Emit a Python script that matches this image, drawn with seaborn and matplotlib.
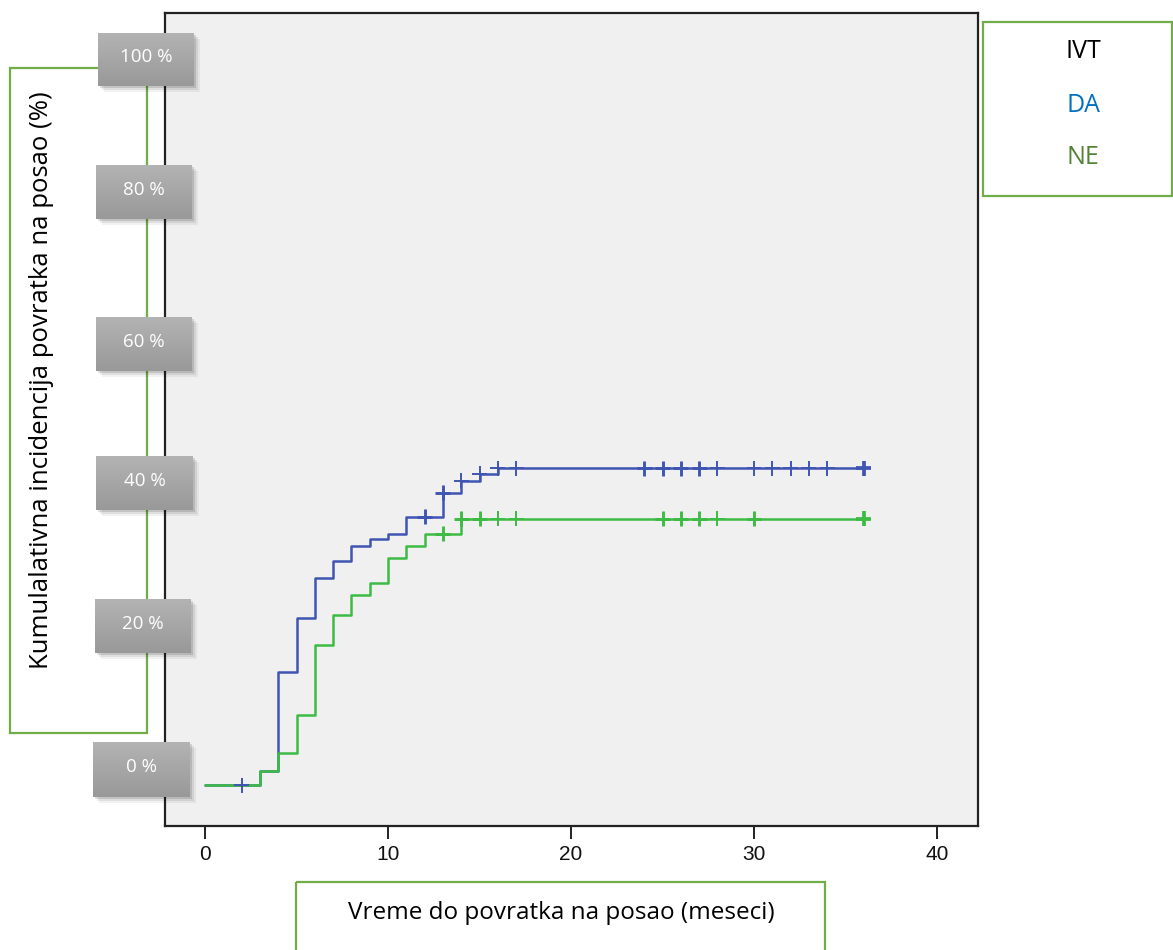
import numpy as np
import pandas as pd
import seaborn as sns
import matplotlib.pyplot as plt
from matplotlib.patches import Rectangle
from matplotlib.colors import LinearSegmentedColormap

# ---------------- data ----------------
groups = ["DA", "NE"]
da_time = [0, 3, 4, 5, 6, 7, 8, 9, 10, 11, 13, 14, 15, 16, 36]
da_cum = [0, 0.019, 0.154, 0.229, 0.283, 0.306, 0.327, 0.336, 0.344, 0.367,
          0.400, 0.416, 0.426, 0.433, 0.433]
ne_time = [0, 3, 4, 5, 6, 7, 8, 9, 10, 11, 12, 14, 36]
ne_cum = [0, 0.019, 0.044, 0.096, 0.191, 0.233, 0.260, 0.277, 0.311, 0.327,
          0.344, 0.364, 0.364]
da_censor = [2, 12, 13, 14, 15, 16, 17, 24, 25, 26, 27, 28, 30, 31, 32, 33, 34, 36]
da_censor_n = [1, 2, 2, 1, 1, 1, 1, 2, 2, 2, 2, 1, 1, 1, 1, 1, 1, 3]
ne_censor = [13, 14, 15, 16, 17, 25, 26, 27, 28, 30, 36]
ne_censor_n = [2, 2, 2, 1, 1, 2, 2, 2, 1, 2, 3]
x_ticks = [0, 10, 20, 30, 40]
y_tick_labels = ["0 %", "20 %", "40 %", "60 %", "80 %", "100 %"]
legend_title = "IVT"
x_label = "Vreme do povratka na posao (meseci)"
y_label = "Kumulalativna incidencija povratka na posao (%)"

line_colors = {"DA": "#3F55B2", "NE": "#3DBB44"}
legend_colors = {"DA": "#0070C0", "NE": "#538135"}

curves = pd.concat([
    pd.DataFrame({"time": da_time, "cum": da_cum, "group": "DA"}),
    pd.DataFrame({"time": ne_time, "cum": ne_cum, "group": "NE"}),
], ignore_index=True)


def censor_frame(times, counts, ctime, ccum, g):
    ctime = np.asarray(ctime, float)
    ccum = np.asarray(ccum, float)
    idx = np.searchsorted(ctime, np.asarray(times, float), side="right") - 1
    return pd.DataFrame({"time": times, "cum": ccum[idx], "n": counts, "group": g})


cens = pd.concat([
    censor_frame(da_censor, da_censor_n, da_time, da_cum, "DA"),
    censor_frame(ne_censor, ne_censor_n, ne_time, ne_cum, "NE"),
], ignore_index=True)

# ---------------- figure ----------------
sns.set_theme(style="white")
plt.rcParams["font.family"] = ["Open Sans", "DejaVu Sans"]

W, H = 1173, 950
fig = plt.figure(figsize=(W / 100, H / 100), dpi=100)
fig.patch.set_facecolor("white")

ax = fig.add_axes([165 / W, 1 - 826 / H, (978 - 165) / W, (826 - 13) / H])
ax.set_facecolor("#F0F0F0")

sns.lineplot(data=curves, x="time", y="cum", hue="group", palette=line_colors,
             drawstyle="steps-post", estimator=None, linewidth=1.8,
             legend=False, ax=ax, zorder=2)

for lw_, sub in [(1.4, cens[cens["n"] == 1]), (2.1, cens[cens["n"] == 2]),
                 (2.7, cens[cens["n"] == 3])]:
    sns.scatterplot(data=sub, x="time", y="cum", hue="group", palette=line_colors,
                    marker="+", s=115, linewidth=lw_, legend=False, ax=ax, zorder=3)

ax.set_xlim(-2.186, 42.24)
ax.set_ylim(-0.056, 1.056)
ax.set_xticks(x_ticks)
ax.set_xticklabels([str(t) for t in x_ticks],
                   family=["Liberation Sans Narrow", "Liberation Sans", "DejaVu Sans"])
ax.set_yticks([])
ax.set_xlabel("")
ax.set_ylabel("")
ax.tick_params(axis="x", direction="out", length=9, width=1.4, color="#222222",
               labelsize=15, pad=5, bottom=True, labelcolor="#111111")
for sp in ax.spines.values():
    sp.set_color("#222222")
    sp.set_linewidth(1.6)

# ---------------- overlay (decorations) ----------------
ov = fig.add_axes([0, 0, 1, 1], zorder=5)
ov.patch.set_alpha(0)
ov.axis("off")

green = "#70AD47"
ov.add_patch(Rectangle((10, 68), 137, 665, fill=False, ec=green, lw=1.6, zorder=1))
ov.add_patch(Rectangle((296, 882), 529, 120, fill=False, ec=green, lw=1.6, zorder=1))
ov.add_patch(Rectangle((983, 22), 189, 174, fill=False, ec=green, lw=1.6, zorder=1))

ov.text(42, 380, y_label, rotation=90, ha="center", va="center", fontsize=18.5,
        color="black", zorder=2)
ov.text(561, 913, x_label, ha="center", va="center", fontsize=17.5, color="black",
        zorder=2)
ov.text(1083, 52, legend_title, ha="center", va="center", fontsize=18, color="black")
ov.text(1083, 105, groups[0], ha="center", va="center", fontsize=18,
        color=legend_colors["DA"])
ov.text(1083, 158, groups[1], ha="center", va="center", fontsize=18,
        color=legend_colors["NE"])

boxes = [(93, 742, 190, 797), (95, 599, 191, 653), (96, 456, 193, 510),
         (96, 317, 192, 371), (96, 165, 192, 219), (98, 33, 194, 86)]
cmap = LinearSegmentedColormap.from_list("gb", ["#B3B3B3", "#999999"])
grad = np.linspace(0, 1, 64).reshape(-1, 1)
for lab, (x0, y0, x1, y1) in zip(y_tick_labels, boxes):
    for off, a in [(6, 0.05), (4, 0.08), (2, 0.12)]:
        ov.add_patch(Rectangle((x0 + off, y0 + off), x1 - x0, y1 - y0,
                               color="black", alpha=a, lw=0, zorder=3))
    ov.imshow(grad, extent=(x0, x1, y1, y0), cmap=cmap, aspect="auto",
              origin="upper", zorder=4, interpolation="bilinear")
    ov.text((x0 + x1) / 2, (y0 + y1) / 2 - 2, lab, ha="center", va="center",
            color="white", fontsize=13.5, zorder=5)

ov.set_xlim(0, W)
ov.set_ylim(H, 0)

fig.savefig("out.png", dpi=100)
